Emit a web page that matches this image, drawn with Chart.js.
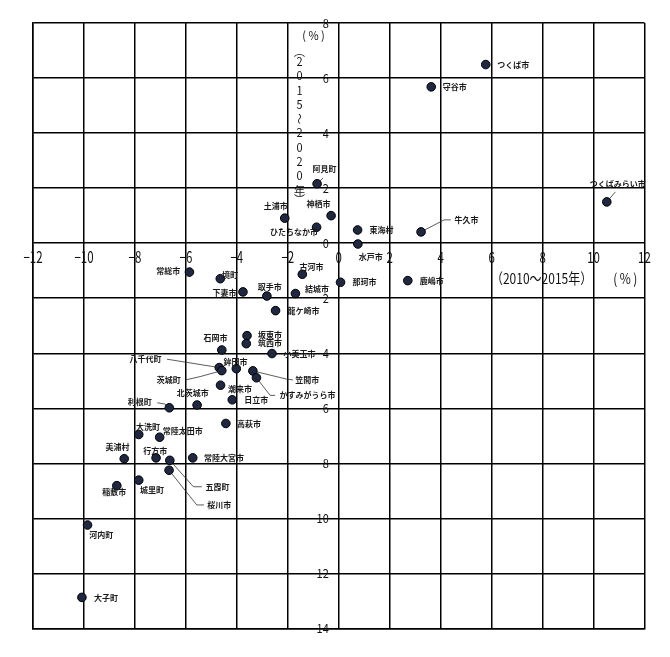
<!DOCTYPE html>
<html>
<head>
<meta charset="utf-8">
<script src="https://cdn.jsdelivr.net/npm/chart.js@4/dist/chart.umd.min.js"></script>
<style>
  body { margin: 0; background: #fff; }
  canvas { display: block; }
</style>
</head>
<body>
<canvas id="chart" width="670" height="657"></canvas>
<script>
const names = ['つくば市', '守谷市', 'つくばみらい市', '牛久市', '阿見町', '土浦市', '神栖市', 'ひたちなか市', '東海村', '水戸市',
  '古河市', '那珂市', '鹿嶋市', '結城市', '取手市', '常総市', '境町', '下妻市', '龍ケ崎市', '坂東市',
  '筑西市', '石岡市', '小美玉市', '八千代町', '茨城町', '鉾田市', '笠間市', 'かすみがうら市', '潮来市', '日立市',
  '北茨城市', '利根町', '高萩市', '大洗町', '常陸太田市', '美浦村', '行方市', '常陸大宮市', '五霞町', '桜川市',
  '城里町', '稲敷市', '河内町', '大子町'];
// 2010~2015 change (%)
const xValues = [5.77, 3.63, 10.52, 3.23, -0.85, -2.12, -0.30, -0.87, 0.74, 0.75,
  -1.43, 0.07, 2.71, -1.70, -2.82, -5.86, -4.65, -3.76, -2.48, -3.60,
  -3.63, -4.59, -2.62, -4.69, -4.59, -4.02, -3.37, -3.23, -4.64, -4.18,
  -5.56, -6.65, -4.43, -7.85, -7.03, -8.42, -7.17, -5.73, -6.63, -6.66,
  -7.85, -8.71, -9.86, -10.08];
// 2015~2020 change (%)
const yValues = [6.49, 5.68, 1.50, 0.41, 2.16, 0.91, 1.00, 0.58, 0.48, -0.03,
  -1.13, -1.42, -1.36, -1.83, -1.92, -1.05, -1.29, -1.77, -2.45, -3.36,
  -3.65, -3.88, -4.01, -4.52, -4.63, -4.56, -4.64, -4.89, -5.16, -5.69,
  -5.88, -5.98, -6.55, -6.95, -7.05, -7.83, -7.80, -7.80, -7.89, -8.25,
  -8.61, -8.81, -10.24, -12.87];

const xTicks = [-12, -10, -8, -6, -4, -2, 0, 2, 4, 6, 8, 10, 12];
const yTicks = [8, 6, 4, 2, 0, -2, -4, -6, -8, -10, -12, -14];
const xTitle = '（2010～2015年）';
const yTitleChars = ['︵', '2', '0', '1', '5', '～', '2', '0', '2', '0', '年', '︶'];
const unitText = '(%)';

// label placement: [dx, dy] from the point to the label's left / middle
const labelPlace = {
  'つくば市': [11.5, 0.5], '守谷市': [11.5, 0], 'つくばみらい市': [-17, -18], '牛久市': [33.5, -12],
  '阿見町': [-4.5, -14.5], '土浦市': [-21, -12.3], '神栖市': [-24.7, -11.7], 'ひたちなか市': [-46.5, 4.4],
  '東海村': [12, 0], '水戸市': [1, 13.3], '古河市': [-2.7, -7], '那珂市': [12, 0], '鹿嶋市': [12, 0],
  '結城市': [9.5, -4.2], '取手市': [-9.2, -9], '常総市': [-33.3, -1.6], '境町': [1.7, -3.7],
  '下妻市': [-30.4, 1.3], '龍ケ崎市': [12, 0.3], '坂東市': [11, -0.7], '筑西市': [11.7, -0.4],
  '石岡市': [-18.4, -11.7], '小美玉市': [11.6, 0], '八千代町': [-89.7, -8.7], '茨城町': [-65, 9.3],
  '鉾田市': [-12.7, -6.4], '笠間市': [42.3, 9], 'かすみがうら市': [23, 17.6], '潮来市': [7.4, 4],
  '日立市': [12, 0.3], '北茨城市': [-20.3, -12.3], '利根町': [-41.6, -5.7], '高萩市': [11, 0.7],
  '大洗町': [-2.7, -7.6], '常陸太田市': [3, -6.3], '美浦村': [-18.6, -12], '行方市': [-12.7, -6.7],
  '常陸大宮市': [11.3, 0], '五霞町': [35.6, 27], '桜川市': [38.3, 34.7], '城里町': [1.3, 10],
  '稲敷市': [-14.7, 6.6], '河内町': [1.6, 10.3], '大子町': [12, 0.3]
};
const leaders = {
  'つくばみらい市': [[8.6, -10]],
  '牛久市': [[23, -12], [29.7, -12]],
  '阿見町': [[6, -5.7]],
  '八千代町': [[-52.3, -8.4]],
  '茨城町': [[-21.7, 6], [-36.2, 9.3]],
  '笠間市': [[34, 8.3], [40, 9]],
  'かすみがうら市': [[13.7, 17.6], [18.7, 17.6]],
  '利根町': [[-4.3, -3.7], [-12, -5]],
  '五霞町': [[23.6, 26.4], [32, 26.4]],
  '桜川市': [[27.7, 34.7], [35, 34.7]]
};

const NARROW = '"Liberation Sans Narrow", "Noto Sans CJK JP", sans-serif';
const JP = '"Noto Sans CJK JP", sans-serif';

function drawText(ctx, text, x, y, font, align, sy) {
  ctx.save();
  ctx.translate(x, y);
  ctx.scale(1, sy || 1);
  ctx.font = font;
  ctx.textAlign = align;
  ctx.textBaseline = 'middle';
  ctx.fillText(text, 0, 0);
  ctx.restore();
}

const leaderLines = {
  id: 'leaderLines',
  beforeDatasetsDraw(chart) {
    const ctx = chart.ctx;
    const meta = chart.getDatasetMeta(0);
    ctx.save();
    ctx.strokeStyle = '#333';
    ctx.lineWidth = 0.8;
    meta.data.forEach((pt, i) => {
      const lead = leaders[names[i]];
      if (!lead) return;
      ctx.beginPath();
      ctx.moveTo(pt.x, pt.y);
      lead.forEach(([dx, dy]) => ctx.lineTo(pt.x + dx, pt.y + dy));
      ctx.stroke();
    });
    ctx.restore();
  }
};

const pointLabels = {
  id: 'pointLabels',
  afterDatasetsDraw(chart) {
    const ctx = chart.ctx;
    const meta = chart.getDatasetMeta(0);
    ctx.save();
    ctx.fillStyle = '#1a1a1a';
    meta.data.forEach((pt, i) => {
      const lp = labelPlace[names[i]] || [10, 0];
      drawText(ctx, names[i], pt.x + lp[0], pt.y + lp[1], 'bold 8px ' + JP, 'left');
    });
    ctx.restore();
  }
};

const axisText = {
  id: 'axisText',
  afterDraw(chart) {
    const { ctx, chartArea, scales: { x, y } } = chart;
    const x0 = x.getPixelForValue(0);
    const y0 = y.getPixelForValue(0);
    ctx.save();
    ctx.fillStyle = '#111';
    x.ticks.forEach(t => {
      const txt = t.value < 0 ? '−' + Math.abs(t.value) : String(t.value);
      drawText(ctx, txt, x.getPixelForValue(t.value), y0 + 13.5, '11.5px ' + NARROW, 'center', 1.35);
    });
    y.ticks.forEach(t => {
      drawText(ctx, String(Math.abs(t.value)), x0 - 10, y.getPixelForValue(t.value), '11px ' + NARROW, 'right', 1.1);
    });
    drawText(ctx, xTitle, x.getPixelForValue(8) - 1, y0 + 35, '12px ' + NARROW, 'center', 1.2);
    ctx.letterSpacing = '2.5px';
    drawText(ctx, unitText, chartArea.right - 18, y0 + 35, '12px ' + NARROW, 'center', 1.2);
    drawText(ctx, unitText, x0 - 24, chartArea.top + 12.5, '11px ' + NARROW, 'center', 1.05);
    ctx.letterSpacing = '0px';
    // vertical y-axis title
    const cx = x0 - 39.3;
    const cy = chartArea.top + 38.6;
    yTitleChars.forEach((ch, i) => {
      let yy;
      if (i === 0) yy = cy - 10;
      else if (i === yTitleChars.length - 1) yy = cy + 14.3 * 9 + 9;
      else yy = cy + 14.3 * (i - 1);
      if (ch === '～') {
        ctx.save();
        ctx.translate(cx, yy);
        ctx.rotate(Math.PI / 2);
        drawText(ctx, ch, 0, 0, '11px ' + JP, 'center');
        ctx.restore();
      } else {
        drawText(ctx, ch, cx, yy, '11px ' + NARROW, 'center', 1.05);
      }
    });
    ctx.restore();
  }
};

new Chart(document.getElementById('chart'), {
  type: 'scatter',
  data: {
    datasets: [{
      data: names.map((n, i) => ({ x: xValues[i], y: yValues[i] })),
      backgroundColor: '#1f2840',
      borderColor: '#000',
      borderWidth: 1,
      pointRadius: 4.3,
      pointHoverRadius: 4.3
    }]
  },
  options: {
    responsive: false,
    devicePixelRatio: 1,
    animation: false,
    layout: { padding: { left: 33, right: 25.5, top: 23, bottom: 28.5 } },
    plugins: { legend: { display: false }, tooltip: { enabled: false } },
    scales: {
      x: {
        type: 'linear',
        min: -12, max: 12,
        afterBuildTicks: s => { s.ticks = xTicks.map(v => ({ value: v })); },
        ticks: { display: false },
        grid: { color: '#000', lineWidth: 1.5, drawTicks: false },
        border: { color: '#000', width: 1.5 }
      },
      y: {
        type: 'linear',
        min: -14, max: 8,
        afterBuildTicks: s => { s.ticks = yTicks.map(v => ({ value: v })); },
        ticks: { display: false },
        grid: { color: '#000', lineWidth: 1.5, drawTicks: false },
        border: { color: '#000', width: 1.5 }
      }
    }
  },
  plugins: [leaderLines, pointLabels, axisText]
});
</script>
</body>
</html>
